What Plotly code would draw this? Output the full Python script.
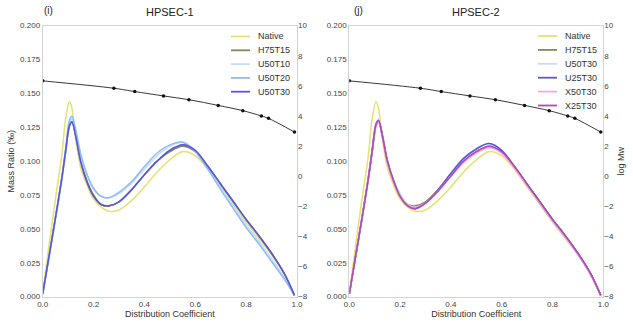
import plotly.graph_objects as go

# ---------------- data ----------------
coef = [0, .025, .05, .075, .09, .105, .115, .13, .15, .175, .2, .23, .26, .3, .35, .4,
        .45, .5, .55, .6, .65, .7, .75, .8, .85, .9, .95, .99]

native = [.002, .038, .072, .104, .131, .144, .139, .116, .095, .082, .072, .066, .063, .064,
          .071, .081, .092, .101, .107, .104, .094, .081, .068, .055, .043, .031, .017, .001]
h75t15 = [.002, .030, .058, .087, .107, .126, .129, .119, .100, .085, .075, .068, .067, .070,
          .079, .090, .100, .107, .111, .107, .096, .083, .070, .057, .045, .032, .017, .001]
u50t10 = [.002, .029, .057, .086, .106, .127, .131, .121, .103, .089, .079, .074, .073, .076,
          .084, .094, .104, .111, .114, .108, .095, .081, .067, .053, .041, .028, .014, .001]
u50t20 = [.002, .030, .058, .088, .109, .130, .133, .123, .105, .090, .080, .074, .073, .077,
          .085, .096, .106, .112, .114, .107, .094, .079, .065, .051, .039, .026, .013, .001]
u50t30 = [.002, .030, .058, .087, .107, .126, .129, .118, .099, .084, .074, .068, .067, .070,
          .079, .090, .100, .108, .112, .108, .096, .083, .070, .057, .045, .032, .017, .001]

# HPSEC-2
u50t30_b = [.002, .030, .058, .088, .108, .128, .131, .120, .101, .086, .076, .068, .066, .069,
            .078, .090, .101, .109, .113, .108, .096, .082, .069, .056, .044, .031, .016, .001]
u25t30 = [.002, .030, .058, .088, .108, .127, .130, .119, .100, .085, .074, .067, .065, .069,
          .079, .091, .102, .109, .113, .108, .096, .083, .070, .057, .045, .032, .017, .001]
x50t30 = [.002, .030, .058, .087, .107, .126, .129, .118, .099, .084, .074, .067, .066, .069,
          .078, .089, .099, .106, .110, .106, .095, .082, .069, .056, .044, .031, .016, .001]
x25t30 = [.002, .030, .058, .087, .107, .127, .130, .119, .100, .085, .074, .067, .065, .069,
          .078, .089, .100, .107, .111, .107, .096, .083, .070, .057, .045, .032, .017, .001]

# log Mw calibration
cal_x = [0, 0.28, 0.362, 0.475, 0.575, 0.69, 0.787, 0.86, 0.888, 0.99]
cal_y = [6.33, 5.84, 5.62, 5.33, 5.08, 4.70, 4.35, 4.00, 3.84, 2.93]

panel1 = [("Native", native, "#e8e276"), ("H75T15", h75t15, "#858a5c"),
          ("U50T10", u50t10, "#cadcf4"), ("U50T20", u50t20, "#8cc0f2"),
          ("U50T30", u50t30, "#5a55dc")]
panel2 = [("Native", native, "#e8e276"), ("H75T15", h75t15, "#858a5c"),
          ("U50T30", u50t30_b, "#cadcf4"), ("U25T30", u25t30, "#5a55dc"),
          ("X50T30", x50t30, "#f2a8ee"), ("X25T30", x25t30, "#b04cb0")]

FONT = "Liberation Sans, Arial, sans-serif"
W, H = 633, 324
fig = go.Figure()

for name, vals, col in panel1:
    fig.add_trace(go.Scatter(x=coef, y=vals, name=name, mode="lines", showlegend=False,
                             line=dict(color=col, width=1.6, shape="spline", smoothing=0.9),
                             xaxis="x", yaxis="y"))
fig.add_trace(go.Scatter(x=cal_x, y=cal_y, mode="lines+markers", showlegend=False,
                         line=dict(color="#222", width=0.9, shape="spline"),
                         marker=dict(size=3.5, color="#111"), xaxis="x", yaxis="y2"))

for name, vals, col in panel2:
    fig.add_trace(go.Scatter(x=coef, y=vals, name=name, mode="lines", showlegend=False,
                             line=dict(color=col, width=1.6, shape="spline", smoothing=0.9),
                             xaxis="x2", yaxis="y3"))
fig.add_trace(go.Scatter(x=cal_x, y=cal_y, mode="lines+markers", showlegend=False,
                         line=dict(color="#222", width=0.9, shape="spline"),
                         marker=dict(size=3.5, color="#111"), xaxis="x2", yaxis="y4"))

frame = dict(showline=True, linecolor="#d4d4d4", linewidth=1, mirror=True, automargin=False,
             showgrid=False, zeroline=False, ticks="", tickfont=dict(size=8, color="#444"))
xcommon = dict(range=[0, 1], dtick=0.2, tickformat=".1f",
               title=dict(text="Distribution Coefficient", font=dict(size=9, color="#333"), standoff=1),
               **frame)
ylcommon = dict(range=[0, 0.2], dtick=0.025, tickformat=".3f", domain=[0.0843, 0.921], **frame)
yrcommon = dict(range=[-8, 10], dtick=2, side="right", showline=False, showgrid=False, automargin=False,
                zeroline=False, ticks="", tickfont=dict(size=8, color="#444"))

# manual compact legends (layout decoration)
shapes, annots = [], []
def add_legend(entries, line_x0, line_x1, text_x, top_y, step):
    for i, (name, _, col) in enumerate(entries):
        yy = 1 - (top_y + i * step) / H
        shapes.append(dict(type="line", xref="paper", yref="paper", x0=line_x0 / W, x1=line_x1 / W,
                           y0=yy, y1=yy, line=dict(color=col, width=1.8)))
        annots.append(dict(text=name, x=text_x / W, y=yy, xref="paper", yref="paper", showarrow=False,
                           xanchor="left", yanchor="middle", font=dict(size=9, color="#333")))

add_legend(panel1, 231, 250, 256, 36.5, 13.8)
add_legend(panel2, 538, 557, 563, 36.0, 13.9)

annots += [
    dict(text="HPSEC-1", x=0.268, y=1 - 12 / H, xref="paper", yref="paper", showarrow=False,
         font=dict(size=11, color="#222"), xanchor="center", yanchor="middle"),
    dict(text="HPSEC-2", x=0.752, y=1 - 12 / H, xref="paper", yref="paper", showarrow=False,
         font=dict(size=11, color="#222"), xanchor="center", yanchor="middle"),
    dict(text="(i)", x=42 / W, y=1 - 10 / H, xref="paper", yref="paper", showarrow=False,
         font=dict(size=10, color="#222"), xanchor="left", yanchor="middle"),
    dict(text="(j)", x=352 / W, y=1 - 10 / H, xref="paper", yref="paper", showarrow=False,
         font=dict(size=10, color="#222"), xanchor="left", yanchor="middle"),
]

fig.update_layout(
    width=W, height=H, margin=dict(l=0, r=0, t=0, b=0, autoexpand=False),
    paper_bgcolor="white", plot_bgcolor="white", showlegend=False,
    font=dict(family=FONT, color="#333"),
    xaxis=dict(domain=[42.7 / W, 297 / W], anchor="y", **xcommon),
    yaxis=dict(anchor="x", title=dict(text="Mass Ratio (‰)", font=dict(size=9, color="#333"), standoff=3),
               **ylcommon),
    yaxis2=dict(overlaying="y", anchor="x", **yrcommon),
    xaxis2=dict(domain=[349.3 / W, 603.3 / W], anchor="y3", **xcommon),
    yaxis3=dict(anchor="x2", **ylcommon),
    yaxis4=dict(overlaying="y3", anchor="x2",
                title=dict(text="log Mw", font=dict(size=9, color="#333"), standoff=4), **yrcommon),
    shapes=shapes, annotations=annots,
)

fig.write_html("out.html", config={"displayModeBar": False},
               post_script="document.body.style.margin='0';document.body.style.overflow='hidden';")
